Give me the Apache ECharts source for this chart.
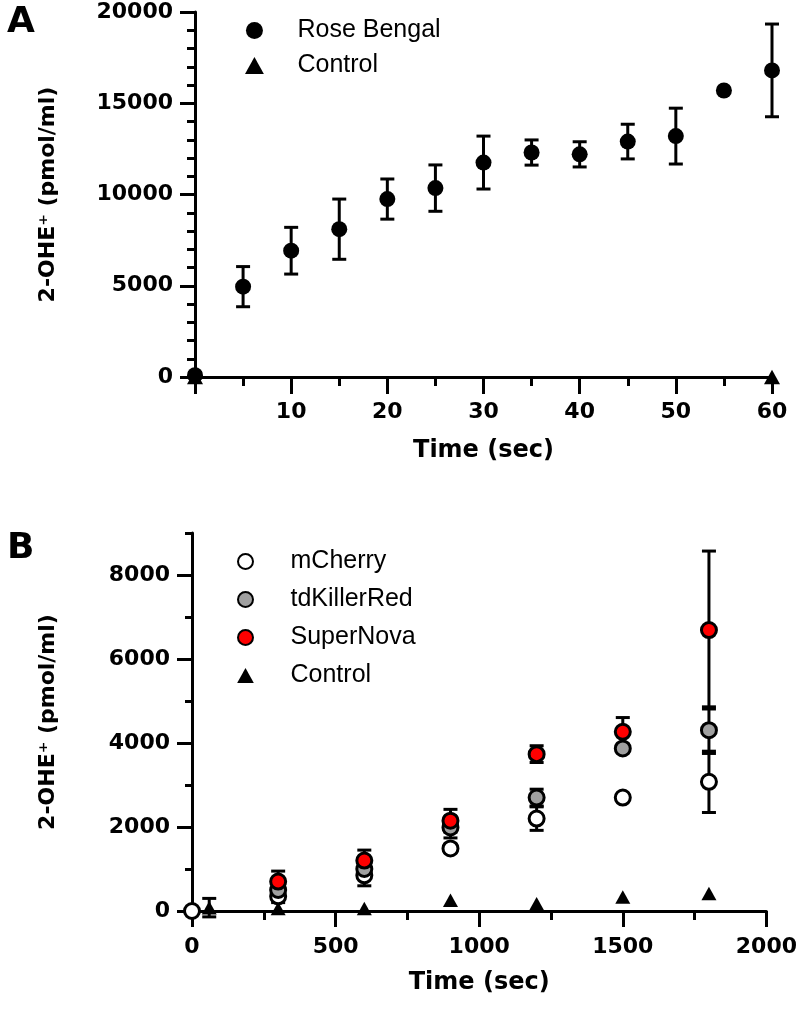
<!DOCTYPE html>
<html>
<head>
<meta charset="utf-8">
<script src="https://cdn.jsdelivr.net/npm/echarts@6/dist/echarts.min.js"></script>
<style>
  html, body { margin: 0; padding: 0; background: #fff; }
  #chart { width: 800px; height: 1010px; }
</style>
</head>
<body>
<div id="chart"></div>
<script>
// panel A: Rose Bengal
const rbTime = [0, 5, 10, 15, 20, 25, 30, 35, 40, 45, 50, 55, 60]
const rbMean = [100, 4950, 6920, 8100, 9750, 10350, 11750, 12300, 12200, 12900, 13200, 15700, 16800]
const rbErr = [150, 1100, 1280, 1650, 1100, 1270, 1450, 690, 690, 950, 1530, 0, 2540]
const ctrlATime = [0, 60]
const ctrlAMean = [0, 0]

// panel B: fluorescent proteins
const mchTime = [0, 300, 600, 900, 1200, 1500, 1800]
const mchMean = [0, 350, 850, 1490, 2200, 2700, 3075]
const mchErr = [0, 150, 250, 100, 280, 80, 730]
const tdkTime = [300, 600, 900, 1200, 1500, 1800]
const tdkMean = [500, 1000, 1990, 2700, 3870, 4306]
const tdkErr = [150, 200, 250, 200, 100, 555]
const snTime = [300, 600, 900, 1200, 1500, 1800]
const snMean = [700, 1200, 2150, 3735, 4266, 6690]
const snErr = [250, 250, 270, 200, 340, 1880]
const ctrlBTime = [60, 300, 600, 900, 1200, 1500, 1800]
const ctrlBMean = [80, 60, 60, 255, 175, 335, 415]
const ctrlBErr = [220, 0, 0, 0, 0, 0, 0]

const yTicksB = [0, 2000, 4000, 6000, 8000]

const tickFont = { fontFamily: 'DejaVu Sans', fontWeight: 'bold', fontSize: 22, color: '#000' }
const nameFont = { fontFamily: 'DejaVu Sans', fontWeight: 'bold', fontSize: 22, color: '#000' }
const legendFont = { fontFamily: 'Liberation Sans', fontSize: 25, color: '#000' }
const axisLine = { show: true, lineStyle: { color: '#000', width: 3 } }
const plain = v => String(v)
// triangle as a path so the legend keeps its aspect
const TRI = 'path://M5,0L10,9L0,9Z'

const pts = (t, m) => t.map((x, i) => [x, m[i]])
const rows = (t, m, e) => t.map((x, i) => [x, m[i], e[i]])

// vertical error bar with caps
const errBars = (data, xi, yi, cap) => ({
  type: 'custom',
  xAxisIndex: xi,
  yAxisIndex: yi,
  z: 1,
  silent: true,
  clip: false,
  encode: { x: 0, y: 1 },
  data: data,
  renderItem: (params, api) => {
    const x = api.value(0), m = api.value(1), e = api.value(2)
    if (!e) return
    const top = api.coord([x, m + e])
    const bot = api.coord([x, m - e])
    const st = { stroke: '#000', lineWidth: 3 }
    return {
      type: 'group',
      children: [
        { type: 'line', shape: { x1: top[0], y1: top[1], x2: bot[0], y2: bot[1] }, style: st },
        { type: 'line', shape: { x1: top[0] - cap, y1: top[1], x2: top[0] + cap, y2: top[1] }, style: st },
        { type: 'line', shape: { x1: bot[0] - cap, y1: bot[1], x2: bot[0] + cap, y2: bot[1] }, style: st }
      ]
    }
  }
})

const dot = (name, xi, t, m, size, style, symbol) => ({
  name: name, type: 'scatter', xAxisIndex: xi, yAxisIndex: xi, clip: false,
  z: symbol ? 2 : 3,
  symbol: symbol || 'circle', symbolSize: size, symbolKeepAspect: true,
  itemStyle: { opacity: 1, ...style },
  emphasis: { disabled: true },
  data: pts(t, m)
})

const chart = echarts.init(document.getElementById('chart'), null, { renderer: 'canvas' })

chart.setOption({
  animation: false,
  backgroundColor: '#fff',
  title: [
    { text: 'A', left: 2, top: 0, textStyle: { fontFamily: 'DejaVu Sans', fontWeight: 'bold', fontSize: 36, color: '#000' } },
    { text: 'B', left: 2, top: 526, textStyle: { fontFamily: 'DejaVu Sans', fontWeight: 'bold', fontSize: 36, color: '#000' } }
  ],
  legend: [
    {
      orient: 'vertical', left: 240, top: 13, itemWidth: 76, itemHeight: 17, itemGap: 10,
      symbolKeepAspect: true, textStyle: legendFont, data: ['Rose Bengal', 'Control']
    },
    {
      orient: 'vertical', left: 232, top: 544, itemWidth: 80, itemHeight: 15, itemGap: 13,
      symbolKeepAspect: true, textStyle: legendFont, data: ['mCherry', 'tdKillerRed', 'SuperNova', 'Control ']
    }
  ],
  grid: [
    { left: 195, top: 12, width: 577, height: 365 },
    { left: 192, top: 533, width: 578, height: 378 }
  ],
  xAxis: [
    {
      gridIndex: 0, type: 'value', min: 0, max: 60, interval: 10,
      axisLine: axisLine,
      axisTick: { length: 17, lineStyle: { color: '#000', width: 3 } },
      minorTick: { show: true, splitNumber: 2, length: 9, lineStyle: { color: '#000', width: 3 } },
      splitLine: { show: false },
      axisLabel: { ...tickFont, margin: 24, formatter: v => (v === 0 ? '' : String(v)) },
      name: 'Time (sec)', nameLocation: 'middle', nameGap: 62,
      nameTextStyle: { ...nameFont, fontSize: 24 }
    },
    {
      gridIndex: 1, type: 'value', min: 0, max: 2000, interval: 500,
      axisLine: axisLine,
      axisTick: { length: 16, lineStyle: { color: '#000', width: 3 } },
      minorTick: { show: true, splitNumber: 2, length: 9, lineStyle: { color: '#000', width: 3 } },
      splitLine: { show: false },
      axisLabel: { ...tickFont, margin: 25, formatter: plain },
      name: 'Time (sec)', nameLocation: 'middle', nameGap: 60,
      nameTextStyle: { ...nameFont, fontSize: 24 }
    }
  ],
  yAxis: [
    {
      gridIndex: 0, type: 'value', min: 0, max: 20000, interval: 5000,
      axisLine: axisLine,
      axisTick: { length: 15, lineStyle: { color: '#000', width: 3 } },
      minorTick: { show: true, splitNumber: 5, length: 8, lineStyle: { color: '#000', width: 3 } },
      splitLine: { show: false },
      axisLabel: { ...tickFont, margin: 22, formatter: plain },
      name: '2-OHE⁺ (pmol/ml)', nameLocation: 'middle', nameGap: 136,
      nameTextStyle: nameFont
    },
    {
      gridIndex: 1, type: 'value', position: 'left', min: 0, max: 9000, interval: 1000,
      axisLine: axisLine,
      axisTick: { length: 7, lineStyle: { color: '#000', width: 3 } },
      splitLine: { show: false },
      axisLabel: { show: false }
    },
    {
      gridIndex: 1, type: 'value', position: 'left', min: 0, max: 9000, interval: 1000,
      axisLine: { show: false },
      axisTick: { length: 15, customValues: yTicksB, lineStyle: { color: '#000', width: 3 } },
      splitLine: { show: false },
      axisLabel: { ...tickFont, margin: 22, customValues: yTicksB, formatter: plain },
      name: '2-OHE⁺ (pmol/ml)', nameLocation: 'middle', nameGap: 133,
      nameTextStyle: nameFont
    }
  ],
  series: [
    errBars(rows(rbTime, rbMean, rbErr), 0, 0, 7),
    dot('Control', 0, ctrlATime, ctrlAMean, 16, { color: '#000' }, TRI),
    dot('Rose Bengal', 0, rbTime, rbMean, 16, { color: '#000' }),
    errBars(rows(ctrlBTime, ctrlBMean, ctrlBErr), 1, 1, 7),
    errBars(rows(mchTime, mchMean, mchErr), 1, 1, 7),
    errBars(rows(tdkTime, tdkMean, tdkErr), 1, 1, 7),
    errBars(rows(snTime, snMean, snErr), 1, 1, 7),
    dot('Control ', 1, ctrlBTime, ctrlBMean, 15, { color: '#000' }, TRI),
    dot('mCherry', 1, mchTime, mchMean, 15, { color: '#fff', borderColor: '#000', borderWidth: 3 }),
    dot('tdKillerRed', 1, tdkTime, tdkMean, 15, { color: '#a0a0a0', borderColor: '#000', borderWidth: 3 }),
    dot('SuperNova', 1, snTime, snMean, 15, { color: '#ff0000', borderColor: '#000', borderWidth: 3 })
  ]
})
</script>
</body>
</html>
